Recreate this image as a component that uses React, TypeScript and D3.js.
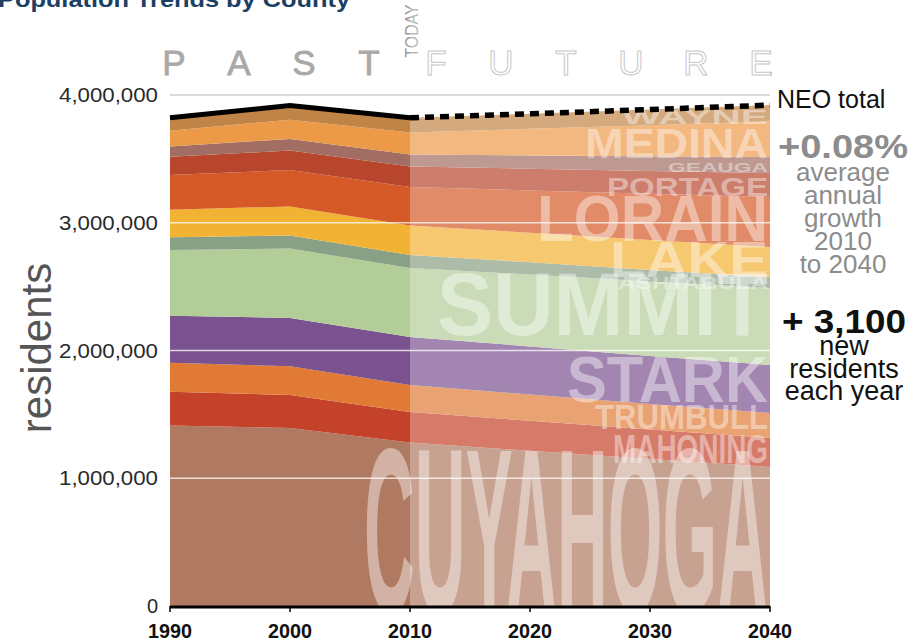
import React from 'react';
import * as d3 from 'd3';

// ---------- data ----------
const years = [1990, 2000, 2010, 2020, 2030, 2040];
const countyKeys = ['Cuyahoga', 'Mahoning', 'Trumbull', 'Stark', 'Summit', 'Ashtabula', 'Lake', 'Lorain', 'Portage', 'Geauga', 'Medina', 'Wayne'];
const cuyahoga = [1412140, 1393978, 1280122, 1215000, 1150000, 1088000];
const mahoning = [264806, 257555, 238823, 235000, 231000, 227000];
const trumbull = [227813, 225116, 210312, 206000, 201000, 196000];
const stark = [367585, 378098, 375586, 376000, 375000, 375000];
const summit = [514990, 542899, 541781, 563000, 584000, 604000];
const ashtabula = [99821, 102728, 101497, 95000, 90000, 85000];
const lake = [215499, 227511, 230041, 232000, 234000, 235000];
const lorain = [271126, 284664, 301356, 331000, 362000, 392000];
const portage = [142585, 152061, 161419, 170000, 178000, 187000];
const geauga = [81129, 90895, 93389, 104000, 115000, 126000];
const medina = [122354, 151095, 172332, 208000, 244000, 280000];
const wayne = [101461, 111564, 114520, 118000, 122000, 126000];
const seriesValues = [cuyahoga, mahoning, trumbull, stark, summit, ashtabula, lake, lorain, portage, geauga, medina, wayne];

const countyColors = ['#b07a62', '#c4412a', '#e07a34', '#7a5290', '#b3cd99', '#88a085', '#f2b234', '#d65a27', '#b7462c', '#a26d62', '#ec9a48', '#c08446'];

const yTicks = [0, 1000000, 2000000, 3000000, 4000000];
const xTicks = [1990, 2000, 2010, 2020, 2030, 2040];
const todayYear = 2010;

const pastLetters = ['P', 'A', 'S', 'T'];
const futureLetters = ['F', 'U', 'T', 'U', 'R', 'E'];
const growthHead = '+0.08%';
const growthLines = ['average', 'annual', 'growth', '2010', 'to 2040'];
const residentsHead = '+ 3,100';
const residentsLines = ['new', 'residents', 'each year'];

// big county labels in the projection area (layout: cap top, cap height, width; right-aligned)
const bigLabels = [
  { t: 'CUYAHOGA', top: 444, h: 168, w: 404 },
  { t: 'SUMMIT', top: 271, h: 64, w: 331 },
  { t: 'ASHTABULA', top: 277, h: 12, w: 150 },
  { t: 'STARK', top: 355, h: 47, w: 201 },
  { t: 'TRUMBULL', top: 404, h: 25, w: 173 },
  { t: 'MAHONING', top: 434, h: 29, w: 155 },
  { t: 'LAKE', top: 241, h: 36, w: 158 },
  { t: 'LORAIN', top: 194, h: 47, w: 231 },
  { t: 'PORTAGE', top: 177, h: 19, w: 161 },
  { t: 'GEAUGA', top: 163, h: 9, w: 100 },
  { t: 'MEDINA', top: 128, h: 30, w: 183 },
  { t: 'WAYNE', top: 110, h: 14, w: 146 },
];

const FONT = '"Liberation Sans", Arial, Helvetica, sans-serif';

export default function App() {
  const W = 915, H = 643;
  const x = d3.scaleLinear().domain([1990, 2040]).range([170, 770]);
  const y = d3.scaleLinear().domain([0, 4000000]).range([606, 95]);

  const table = years.map((yr, i) => {
    const row: any = { year: yr };
    countyKeys.forEach((k, j) => (row[k] = seriesValues[j][i]));
    return row;
  });
  const stacked = d3.stack().keys(countyKeys)(table);
  const area = d3.area<any>()
    .x((d) => x(d.data.year))
    .y0((d) => y(d[0]))
    .y1((d) => y(d[1]));

  const totals = table.map((r) => ({ year: r.year, total: d3.sum(countyKeys, (k) => r[k]) }));
  const line = d3.line<any>().x((d) => x(d.year)).y((d) => y(d.total));
  const pastTotals = totals.filter((d) => d.year <= todayYear);
  const futureTotals = totals.filter((d) => d.year >= todayYear);

  const xToday = x(todayYear);
  const x0 = x(1990), x1 = x(2040);

  return (
    <svg width={W} height={H} style={{ position: 'absolute', left: 0, top: 0, background: '#fff' }} fontFamily={FONT}>
      <defs>
        <clipPath id="areaClip">
          <rect x={x0} y={y(4000000)} width={x1 - x0} height={y(0) - y(4000000)} />
        </clipPath>
      </defs>

      {/* title (cut off at top) */}
      <text x={-2} y={7} fontSize={22} fontWeight="bold" fill="#1c3f66" textLength={352} lengthAdjust="spacingAndGlyphs">
        Population Trends by County
      </text>

      {/* PAST / FUTURE letters */}
      {pastLetters.map((l, i) => (
        <text key={'p' + i} x={174 + i * 65} y={75} fontSize={35} fill="#a9a9a9" stroke="#a9a9a9" strokeWidth={0.8} textAnchor="middle">{l}</text>
      ))}
      {futureLetters.map((l, i) => (
        <text key={'f' + i} x={436 + i * 65} y={75} fontSize={35} fill="#fff" stroke="#b0b0b0" strokeWidth={1} textAnchor="middle">{l}</text>
      ))}
      <text transform={`translate(${xToday + 8},31) rotate(-90)`} fontSize={19} fill="#9a9a9a" textAnchor="middle" textLength={53} lengthAdjust="spacingAndGlyphs">TODAY</text>

      {/* stacked areas */}
      {stacked.map((s, i) => (
        <path key={s.key} d={area(s as any) || ''} fill={countyColors[i]} />
      ))}
      {/* faded projection */}
      <rect x={xToday} y={0} width={x1 - xToday} height={y(0)} fill="#fff" opacity={0.3} />

      {/* big labels */}
      <g clipPath="url(#areaClip)">
        {bigLabels.map((b) => (
          <text key={b.t} x={x1 - 2 - b.w} y={b.top + b.h} fontSize={b.h / 0.716} fontWeight="bold" fill="#fff" fillOpacity={0.42}
            textLength={b.w} lengthAdjust="spacingAndGlyphs">{b.t}</text>
        ))}
      </g>

      {/* grid lines */}
      {yTicks.filter((t) => t > 0 && t < 4000000).map((t) => (
        <line key={t} x1={x0} x2={x1} y1={y(t)} y2={y(t)} stroke="#fff" strokeOpacity={0.75} strokeWidth={1.6} />
      ))}
      <line x1={x0} x2={x1} y1={y(4000000)} y2={y(4000000)} stroke="#cfcfcf" strokeWidth={1.5} />

      {/* total line */}
      <path d={line(pastTotals) || ''} fill="none" stroke="#000" strokeWidth={5} />
      <path d={line(futureTotals) || ''} fill="none" stroke="#000" strokeWidth={5.5} strokeDasharray="9,6" />

      {/* x axis */}
      <line x1={x0} x2={x1} y1={y(0) + 1} y2={y(0) + 1} stroke="#000" strokeWidth={3} />
      {xTicks.map((t) => (
        <g key={t}>
          <line x1={x(t)} x2={x(t)} y1={y(0)} y2={y(0) + 6} stroke="#000" strokeWidth={1.5} />
          <text x={x(t)} y={638} fontSize={21} fontWeight="bold" fill="#111" textAnchor="middle" textLength={44} lengthAdjust="spacingAndGlyphs">{t}</text>
        </g>
      ))}

      {/* y axis labels */}
      {yTicks.map((t) => (
        <text key={t} x={158} y={y(t) + 7} fontSize={20} fill="#2a2a2a" textAnchor="end"
          textLength={t === 0 ? undefined : 99} lengthAdjust="spacingAndGlyphs">{d3.format(',')(t)}</text>
      ))}
      <text transform={`translate(51,${348}) rotate(-90)`} fontSize={42} fill="#555" textAnchor="middle">residents</text>

      {/* right annotations */}
      <text x={777} y={108} fontSize={25} fill="#111">NEO total</text>
      <text x={843} y={158} fontSize={34} fontWeight="bold" fill="#8c8c8c" textAnchor="middle" textLength={130} lengthAdjust="spacingAndGlyphs">{growthHead}</text>
      {growthLines.map((l, i) => (
        <text key={l} x={843} y={181 + i * 23} fontSize={26} fill="#8c8c8c" textAnchor="middle">{l}</text>
      ))}
      <text x={844} y={333} fontSize={33} fontWeight="bold" fill="#111" textAnchor="middle" textLength={124} lengthAdjust="spacingAndGlyphs">{residentsHead}</text>
      {residentsLines.map((l, i) => (
        <text key={l} x={844} y={355 + i * 22.5} fontSize={27} fill="#111" textAnchor="middle">{l}</text>
      ))}
    </svg>
  );
}
